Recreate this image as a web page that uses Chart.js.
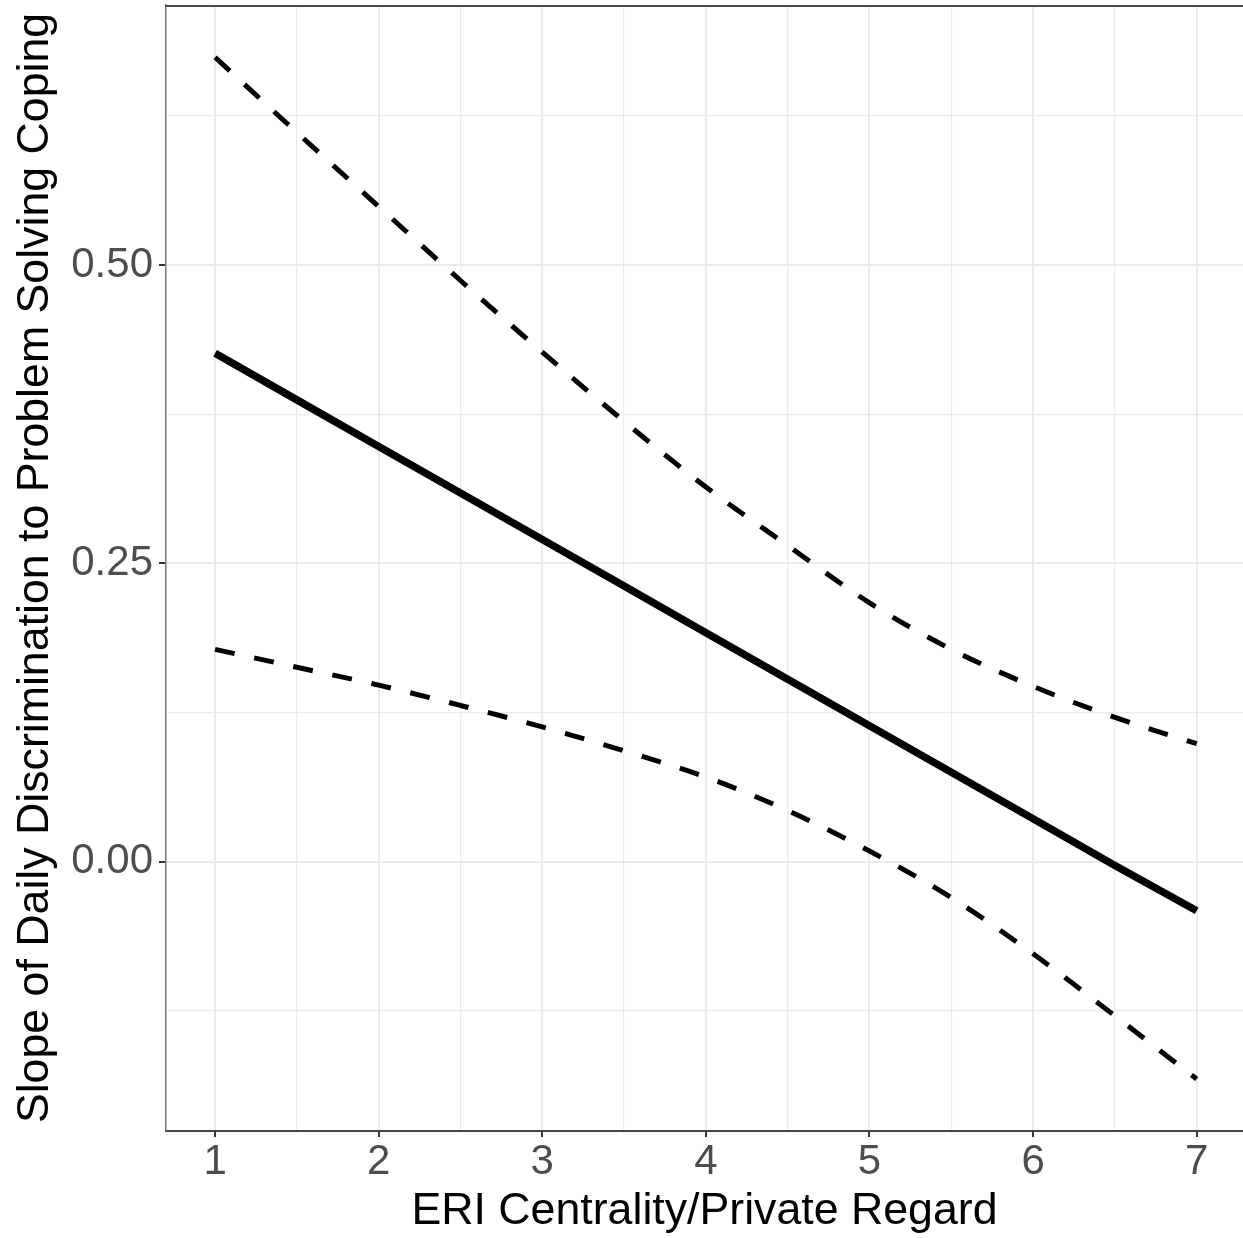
<!DOCTYPE html>
<html><head><meta charset="utf-8">
<script src="https://cdn.jsdelivr.net/npm/chart.js@4.4.1/dist/chart.umd.min.js"></script>
<style>html,body{margin:0;padding:0;background:#fff;} canvas{display:block;}</style>
</head><body>
<canvas id="c" width="1243" height="1238"></canvas>
<script>
// ---- data ----
const xValues  = [1, 1.5, 2, 2.5, 3, 3.5, 4, 4.5, 5, 5.5, 6, 6.5, 7];
const estimate = [0.426, 0.387, 0.348, 0.309, 0.270, 0.231, 0.192, 0.153, 0.114, 0.075, 0.036, -0.003, -0.041];
const upperCI  = [0.674, 0.611, 0.549, 0.487, 0.427, 0.369, 0.314, 0.265, 0.217, 0.178, 0.147, 0.121, 0.099];
const lowerCI  = [0.178, 0.163, 0.148, 0.131, 0.113, 0.093, 0.071, 0.043, 0.009, -0.030, -0.077, -0.129, -0.182];

const xMajorTicks = [1, 2, 3, 4, 5, 6, 7];
const xMinorTicks = [1.5, 2.5, 3.5, 4.5, 5.5, 6.5];
const xTickLabels = ['1', '2', '3', '4', '5', '6', '7'];
const yMajorTicks = [0, 0.25, 0.5];
const yMinorTicks = [-0.125, 0.125, 0.375, 0.625];
const yTickLabels = ['0.00', '0.25', '0.50'];

const xTitle = 'ERI Centrality/Private Regard';
const yTitle = 'Slope of Daily Discrimination to Problem Solving Coping';

// ---- styling ----
const FONT = '"Liberation Sans", Arial, Helvetica, sans-serif';
const GRID = '#EBEBEB';
const isMajor = (list, v) => list.some(m => Math.abs(m - v) < 1e-9);

function toPts(ys) { return xValues.map((x, i) => ({ x: x, y: ys[i] })); }

const panelBorder = {
  id: 'panelBorder',
  afterDatasetsDraw(chart) {
    const { ctx, chartArea: a } = chart;
    ctx.save();
    ctx.strokeStyle = '#4a4a4a';
    ctx.lineWidth = 2;
    ctx.beginPath();
    ctx.moveTo(a.left - 1, a.top + 1);
    ctx.lineTo(a.right, a.top + 1);
    ctx.stroke();
    ctx.restore();
  }
};

new Chart(document.getElementById('c'), {
  type: 'line',
  data: {
    datasets: [
      { data: toPts(upperCI), borderColor: '#000', borderWidth: 5, borderDash: [20, 20], borderCapStyle: 'butt', borderJoinStyle: 'round', pointRadius: 0, cubicInterpolationMode: 'monotone', fill: false },
      { data: toPts(lowerCI), borderColor: '#000', borderWidth: 5, borderDash: [20, 20], borderCapStyle: 'butt', borderJoinStyle: 'round', pointRadius: 0, cubicInterpolationMode: 'monotone', fill: false },
      { data: toPts(estimate), borderColor: '#000', borderWidth: 7.5, borderCapStyle: 'butt', borderJoinStyle: 'round', pointRadius: 0, tension: 0, fill: false }
    ]
  },
  options: {
    responsive: false,
    devicePixelRatio: 1,
    animation: false,
    events: [],
    layout: { padding: { top: 5, right: 0, bottom: 0, left: 0 } },
    plugins: { legend: { display: false }, tooltip: { enabled: false }, title: { display: false } },
    scales: {
      x: {
        type: 'linear',
        min: 0.7,
        max: 7.283,
        afterBuildTicks(scale) {
          scale.ticks = xMajorTicks.concat(xMinorTicks).sort((a, b) => a - b).map(v => ({ value: v }));
        },
        afterFit(scale) {
          scale.height = 107;
          scale.paddingLeft = 0; scale.paddingRight = 0; scale.paddingTop = 0; scale.paddingBottom = 0;
        },
        ticks: {
          autoSkip: false,
          maxRotation: 0,
          padding: 0,
          color: '#4D4D4D',
          font: { family: FONT, size: 42 },
          callback(value) {
            const i = xMajorTicks.findIndex(m => Math.abs(m - value) < 1e-9);
            return i >= 0 ? xTickLabels[i] : '';
          }
        },
        grid: {
          drawTicks: true,
          tickLength: 6,
          color: () => GRID,
          lineWidth: (ctx) => isMajor(xMajorTicks, ctx.tick.value) ? 2 : 1.2,
          tickColor: (ctx) => isMajor(xMajorTicks, ctx.tick.value) ? '#333333' : 'rgba(0,0,0,0)',
          tickWidth: 2
        },
        border: { display: true, color: '#444444', width: 2 },
        title: {
          display: true,
          text: xTitle,
          color: '#000',
          font: { family: FONT, size: 44.7 },
          padding: { top: 0, bottom: 0 }
        }
      },
      y: {
        type: 'linear',
        min: -0.2255,
        max: 0.7178,
        afterBuildTicks(scale) {
          scale.ticks = yMajorTicks.concat(yMinorTicks).sort((a, b) => a - b).map(v => ({ value: v }));
        },
        afterFit(scale) {
          scale.width = 166;
          scale.paddingLeft = 0; scale.paddingRight = 0; scale.paddingTop = 0; scale.paddingBottom = 0;
        },
        ticks: {
          autoSkip: false,
          padding: 6,
          color: '#4D4D4D',
          font: { family: FONT, size: 42 },
          callback(value) {
            const i = yMajorTicks.findIndex(m => Math.abs(m - value) < 1e-9);
            return i >= 0 ? yTickLabels[i] : '';
          }
        },
        grid: {
          drawTicks: true,
          tickLength: 7,
          color: () => GRID,
          lineWidth: (ctx) => isMajor(yMajorTicks, ctx.tick.value) ? 2 : 1.2,
          tickColor: (ctx) => isMajor(yMajorTicks, ctx.tick.value) ? '#333333' : 'rgba(0,0,0,0)',
          tickWidth: 2
        },
        border: { display: true, color: '#7a7a7a', width: 1.5 },
        title: {
          display: true,
          text: yTitle,
          color: '#000',
          font: { family: FONT, size: 44.7 },
          padding: { top: 9, bottom: 0 }
        }
      }
    }
  },
  plugins: [panelBorder]
});
</script>
</body></html>
